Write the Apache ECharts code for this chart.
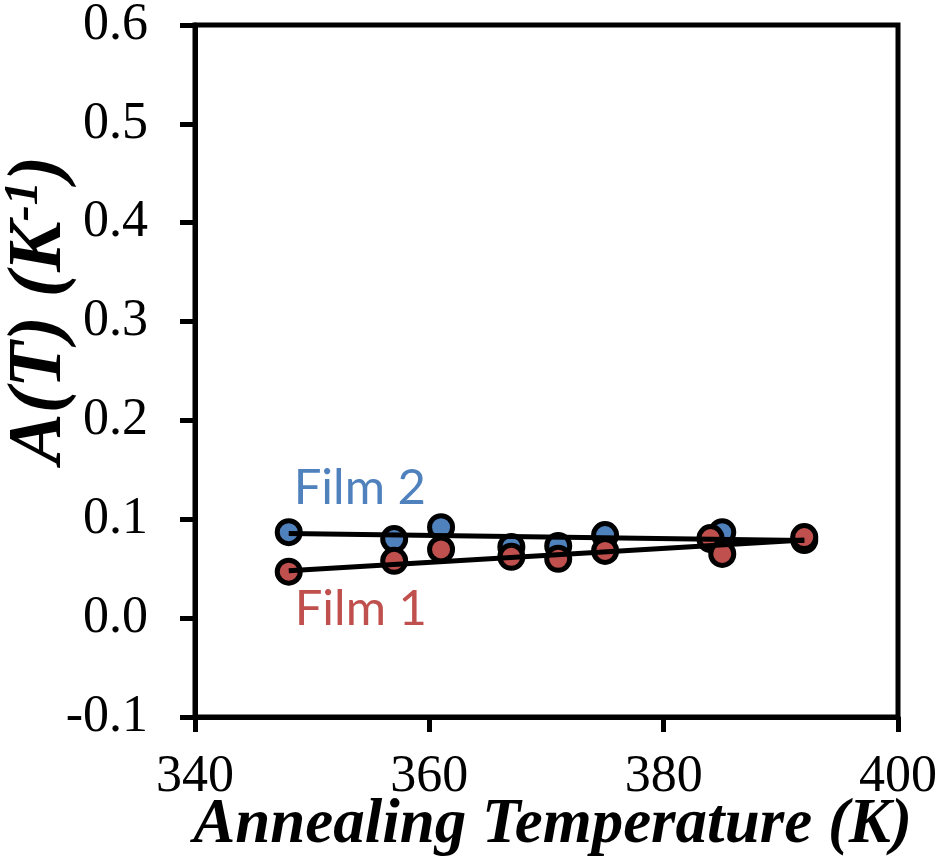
<!DOCTYPE html>
<html>
<head>
<meta charset="utf-8">
<script src="https://cdn.jsdelivr.net/npm/echarts@6/dist/echarts.min.js"></script>
<style>
  html, body { margin: 0; padding: 0; background: #fff; }
  #chart { width: 941px; height: 861px; }
</style>
</head>
<body>
<div id="chart"></div>
<script>
// Annealing temperatures (K)
const temps = [348, 357, 361, 367, 371, 375, 384, 385, 392];
// A(T) values (1/K) for each film
const film2 = [0.087, 0.080, 0.092, 0.072, 0.073, 0.084, 0.080, 0.087, 0.079];
const film1 = [0.047, 0.058, 0.0695, 0.062, 0.060, 0.068, 0.081, 0.065, 0.082];
// Linear trend endpoints [T, A]
const trend2 = [[348, 0.0856], [392, 0.0786]];
const trend1 = [[348, 0.048], [392, 0.079]];
// Axis ticks
const xTicks = [340, 360, 380, 400];
const yTicks = [-0.1, 0.0, 0.1, 0.2, 0.3, 0.4, 0.5, 0.6];

const BLUE = '#4F81BD';
const RED = '#C0504D';
const serif = '"Liberation Serif", "Times New Roman", serif';

function pointSeries(name, values, color, labelText, labelPos) {
  return {
    name: name,
    type: 'scatter',
    symbol: 'circle',
    symbolSize: 23,
    itemStyle: { color: color, borderColor: '#000', borderWidth: 5, opacity: 1 },
    data: values.map((v, i) => {
      const item = { value: [temps[i], v] };
      if (i === 0) {
        item.label = {
          show: true,
          formatter: labelText,
          position: labelPos,
          align: 'left',
          verticalAlign: 'middle',
          color: color,
          fontFamily: 'Lato, "Open Sans", sans-serif',
          fontSize: 49
        };
      }
      return item;
    }),
    z: 3
  };
}

function trendSeries(pts) {
  return {
    type: 'line',
    data: pts,
    showSymbol: false,
    symbol: 'none',
    lineStyle: { color: '#000', width: 5 },
    silent: true,
    z: 4
  };
}

const chart = echarts.init(document.getElementById('chart'), null, { renderer: 'canvas' });
chart.setOption({
  animation: false,
  backgroundColor: '#fff',
  grid: {
    left: 195, top: 25, right: 43, bottom: 144,
    containLabel: false,
    outerBoundsMode: 'none',
    show: true, borderColor: '#000', borderWidth: 5
  },
  xAxis: {
    type: 'value',
    min: xTicks[0], max: xTicks[xTicks.length - 1], interval: 20,
    name: 'Annealing Temperature (K)',
    nameLocation: 'middle',
    nameMoveOverlap: false,
    nameGap: 77,
    nameTextStyle: { fontFamily: serif, fontWeight: 'bold', fontStyle: 'italic', fontSize: 63, color: '#000', padding: [0, 0, 0, 12] },
    axisLine: { show: true, onZero: false, lineStyle: { color: '#000', width: 5 } },
    axisTick: { show: true, inside: false, length: 15, lineStyle: { color: '#000', width: 5 } },
    axisLabel: { fontFamily: serif, fontSize: 52, color: '#000', margin: 34 },
    splitLine: { show: false }
  },
  yAxis: {
    type: 'value',
    min: yTicks[0], max: yTicks[yTicks.length - 1], interval: 0.1,
    name: '{t|A(T) (K}{s|-1}{t|)}',
    nameLocation: 'middle',
    nameMoveOverlap: false,
    nameRotate: 90,
    nameGap: 116,
    nameTextStyle: {
      padding: [0, 0, 0, 122],
      rich: {
        t: { fontFamily: serif, fontWeight: 'bold', fontStyle: 'italic', fontSize: 76, color: '#000' },
        s: { fontFamily: serif, fontWeight: 'bold', fontStyle: 'italic', fontSize: 48, color: '#000', verticalAlign: 'top', padding: [0, 0, 30, 0] }
      }
    },
    axisLine: { show: true, onZero: false, lineStyle: { color: '#000', width: 5 } },
    axisTick: { show: true, inside: false, length: 15, lineStyle: { color: '#000', width: 5 } },
    axisLabel: {
      fontFamily: serif, fontSize: 52, color: '#000', margin: 47,
      formatter: v => v.toFixed(1)
    },
    splitLine: { show: false }
  },
  series: [
    pointSeries('Film 2', film2, BLUE, 'Film 2', [19, -30]),
    pointSeries('Film 1', film1, RED, 'Film 1', [20, 52]),
    trendSeries(trend2),
    trendSeries(trend1)
  ]
});
</script>
</body>
</html>
